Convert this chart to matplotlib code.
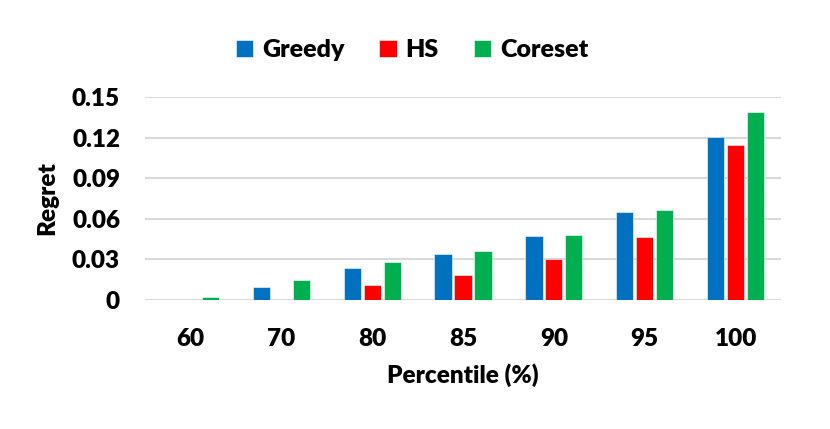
import numpy as np
import matplotlib
matplotlib.use("Agg")
import matplotlib.pyplot as plt

plt.rcParams['font.family'] = ['Lato', 'DejaVu Sans']
plt.rcParams['font.weight'] = 'heavy'

# data
categories = ["60", "70", "80", "85", "90", "95", "100"]
greedy  = [0.0,   0.0096, 0.024, 0.0342, 0.047, 0.0648, 0.1205]
hs      = [0.0,   0.0,    0.011, 0.0185, 0.030, 0.0463, 0.1146]
coreset = [0.002, 0.0148, 0.028, 0.0365, 0.0478, 0.0665, 0.139]
yticks = [0, 0.03, 0.06, 0.09, 0.12, 0.15]
ytick_labels = ["0", "0.03", "0.06", "0.09", "0.12", "0.15"]

fig = plt.figure(figsize=(8.3, 4.29), dpi=100)
ax = fig.add_axes([145 / 830, 1 - 300 / 429, 636 / 830, 203 / 429])

x = np.arange(len(categories))
w = 0.19
off = 0.22
series = [("Greedy", greedy, "#0070C0"), ("HS", hs, "#FF0000"), ("Coreset", coreset, "#00B050")]
for i, (name, vals, col) in enumerate(series):
    ax.bar(x + (i - 1) * off, vals, width=w, color=col, label=name,
           edgecolor="white", linewidth=0.4, zorder=3)

ax.set_xlim(-0.5, len(categories) - 0.5)
ax.set_ylim(0, 0.15)
ax.set_yticks(yticks)
ax.set_yticklabels(ytick_labels)
ax.set_xticks(x)
ax.set_xticklabels(categories)
ax.grid(axis="y", color="#D9D9D9", linewidth=1.5, zorder=0)
for s in ax.spines.values():
    s.set_visible(False)
ax.tick_params(axis="both", length=0, labelsize=17.5)
ax.tick_params(axis="y", pad=18)
ax.tick_params(axis="x", pad=20)

ax.set_xlabel("Percentile (%)", fontsize=17.5, fontweight="heavy", labelpad=10)
ax.set_ylabel("Regret", fontsize=17.5, fontweight="heavy", labelpad=10)

ax.legend(loc="center", bbox_to_anchor=(412 / 830, 1 - 50 / 429), bbox_transform=fig.transFigure,
          ncol=3, frameon=False, fontsize=18, handlelength=0.7, handleheight=0.7,
          handletextpad=0.35, columnspacing=1.4)

plt.savefig("out.png", dpi=100)
